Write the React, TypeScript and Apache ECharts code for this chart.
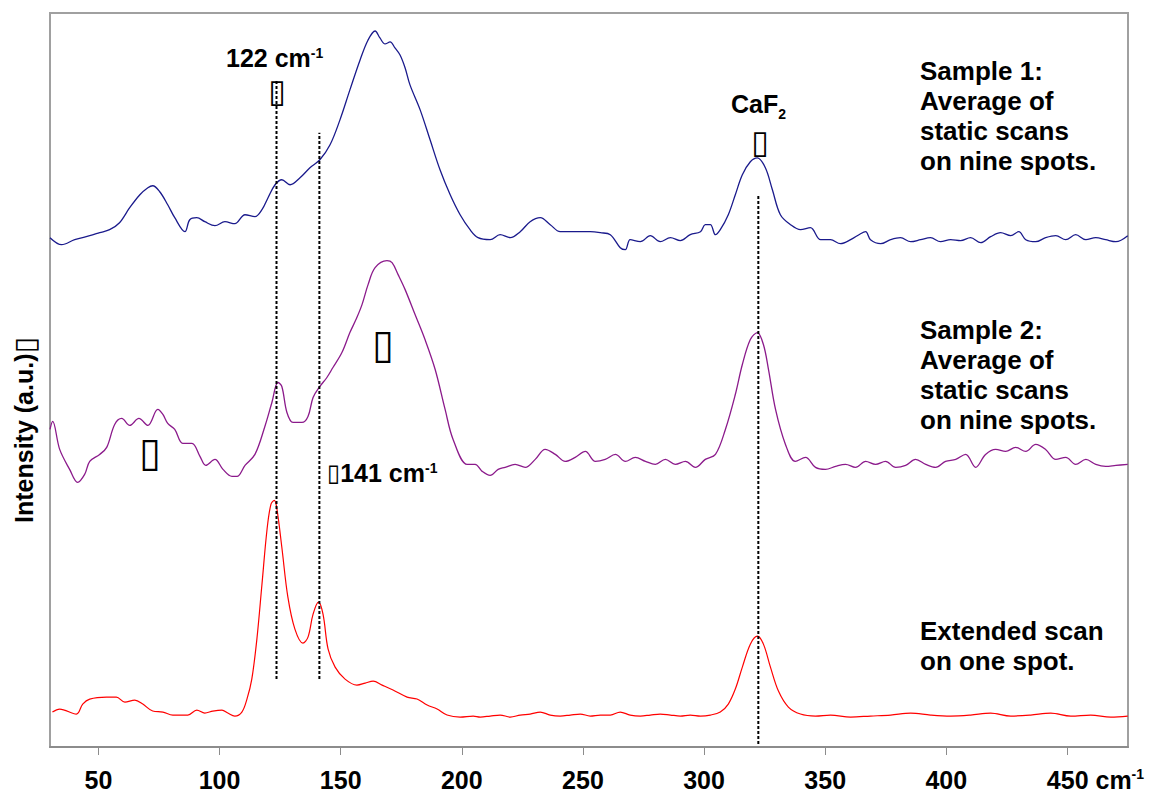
import React, { useEffect, useRef } from 'react';
import * as echarts from 'echarts';

// Wavenumber (cm-1) and intensity (a.u., arbitrary stacked offsets)
const sample1X = [30, 34.8, 40.2, 46.4, 50.5, 54.6, 58.7, 62.9, 67.1, 70.4,
  72.4, 75.3, 78.6, 81.5, 85.7, 87.7, 90.6, 93.9, 98.1, 102.2,
  106.3, 110.5, 114.6, 117.5, 120.0, 122.9, 125.7, 129.1, 133.2, 137.3,
  141.4, 145.6, 149.7, 153.8, 158.0, 161.3, 164.2, 166.2, 168.3, 170.4,
  172.4, 174.5, 176.6, 178.6, 182.8, 186.9, 191.0, 195.2, 199.3, 203.4,
  206.7, 211.7, 215.8, 220.0, 224.1, 228.2, 232.4, 236.5, 240.6, 244.8,
  248.9, 253.0, 257.2, 261.3, 265.4, 267.5, 269.5, 273.7, 277.8, 281.9,
  286.1, 290.2, 294.3, 298.5, 300.5, 302.6, 304.7, 306.7, 310.0, 312.9,
  315.8, 319.1, 322.0, 325.3, 328.2, 331.5, 335.7, 339.8, 343.9, 348.1,
  352.2, 356.3, 360.5, 364.6, 366.7, 368.7, 372.9, 377.0, 381.1, 385.3,
  389.4, 393.5, 397.6, 401.8, 405.9, 410.0, 414.2, 418.3, 422.4, 426.6,
  429.9, 432.8, 436.9, 441.0, 445.2, 449.3, 453.4, 457.6, 461.7, 465.8,
  470.0, 474.9];
const sample1Y = [510, 503, 508, 512, 515, 518, 525, 540, 553, 560,
  562, 556, 543, 530, 516, 528, 530, 526, 522, 526,
  524, 533, 531, 538, 550, 563, 568, 563, 570, 580,
  588, 603, 628, 658, 688, 708, 717, 710, 704, 706,
  700, 693, 680, 663, 638, 608, 578, 553, 533, 518,
  510, 508, 513, 510, 516, 526, 530, 523, 516, 516,
  516, 516, 515, 513, 500, 498, 508, 506, 512, 506,
  510, 507, 513, 516, 523, 523, 513, 518, 533, 553,
  573, 586, 590, 580, 558, 533, 523, 518, 520, 508,
  508, 504, 508, 514, 516, 508, 504, 508, 510, 506,
  508, 510, 506, 508, 507, 510, 505, 511, 515, 512,
  516, 508, 506, 510, 512, 508, 513, 508, 510, 508,
  506, 512];

const sample2X = [30.0, 31.1, 34.0, 38.1, 41.4, 44.3, 46.4, 50.5, 53.4, 56.7,
  59.6, 62.9, 66.7, 70.4, 74.5, 76.6, 78.6, 81.5, 84.8, 88.6,
  91.9, 94.3, 98.1, 101.4, 105.1, 107.2, 110.5, 114.6, 118.7, 121.6,
  124.1, 125.7, 127.8, 130.3, 134.0, 136.5, 138.6, 141.4, 144.3, 146.8,
  150.5, 153.8, 156.3, 158.8, 161.3, 164.2, 169.1, 171.2, 173.7, 176.6,
  180.7, 184.8, 189.0, 193.1, 196.4, 202.2, 205.5, 208.4, 211.7, 215.0,
  217.9, 222.0, 226.2, 230.3, 234.4, 238.6, 242.7, 246.8, 251.0, 255.1,
  259.2, 263.4, 267.5, 271.6, 275.8, 279.9, 284.0, 288.1, 292.3, 296.4,
  300.5, 304.7, 308.8, 312.9, 315.8, 319.1, 322.0, 324.5, 326.6, 329.5,
  333.6, 337.7, 341.9, 346.0, 350.1, 354.3, 358.4, 362.5, 366.7, 370.8,
  374.9, 379.1, 383.2, 387.3, 391.5, 395.6, 399.7, 403.9, 408.0, 412.1,
  416.2, 420.4, 424.5, 428.6, 432.8, 436.9, 441.0, 445.2, 449.3, 453.4,
  457.6, 461.7, 465.8, 470.0, 474.9];
const sample2Y = [318, 326, 298, 278, 265, 273, 286, 293, 300, 323,
  329, 322, 329, 322, 338, 333, 324, 318, 304, 304,
  291, 282, 288, 278, 271, 271, 282, 293, 321, 345,
  365, 361, 335, 325, 325, 331, 350, 361, 370, 380,
  395, 415, 428, 443, 463, 480, 487, 485, 473, 458,
  433, 408, 378, 338, 308, 283, 283, 276, 272, 278,
  280, 283, 280, 288, 298, 293, 286, 290, 296, 286,
  288, 293, 286, 290, 286, 283, 288, 283, 286, 280,
  288, 293, 318, 353, 383, 408, 415, 403, 378, 338,
  303, 286, 290, 280, 278, 281, 283, 280, 286, 283,
  286, 280, 282, 288, 283, 280, 286, 288, 293, 280,
  293, 298, 296, 300, 296, 303, 298, 288, 290, 283,
  288, 283, 281, 282, 283];

const extendedX = [31.0, 34.0, 40.9, 43.5, 46.4, 53.3, 57.4, 60.9, 65.0, 68.3,
  72.4, 76.6, 80.7, 86.9, 90.6, 93.9, 97.2, 101.0, 103.4, 106.3,
  109.2, 111.3, 113.3, 115.4, 117.5, 119.6, 121.2, 122.6, 123.7, 125.7,
  128.2, 131.1, 134.4, 136.5, 138.6, 140.8, 142.7, 144.8, 147.7, 151.8,
  156.7, 160.1, 163.4, 167.1, 171.6, 177.4, 181.5, 185.7, 189.8, 193.9,
  199.3, 204.7, 207.6, 211.7, 215.8, 220.0, 224.1, 228.2, 232.4, 236.5,
  240.6, 244.8, 248.9, 253.0, 257.2, 261.3, 265.4, 269.5, 273.7, 277.8,
  281.9, 286.1, 290.2, 294.3, 298.5, 302.6, 306.7, 310.0, 312.9, 315.8,
  319.1, 322.0, 324.5, 327.4, 330.7, 334.8, 339.8, 346.0, 352.2, 360.5,
  368.7, 377.0, 385.3, 393.5, 401.8, 410.0, 418.3, 426.6, 434.8, 443.1,
  451.4, 459.6, 467.9, 474.9];
const extendedY = [35, 38, 33, 43, 48, 50, 50, 45, 47, 43,
  36, 35, 32, 32, 37, 34, 36, 37, 34, 31,
  35, 48, 68, 108, 163, 218, 243, 247, 238, 200,
  150, 118, 104, 110, 133, 145, 133, 98, 80, 68,
  62, 64, 66, 62, 57, 50, 48, 42, 38, 32,
  30, 31, 30, 31, 32, 30, 32, 33, 35, 32,
  31, 32, 33, 31, 32, 32, 35, 32, 31, 32,
  33, 32, 31, 32, 31, 32, 35, 43, 58, 80,
  103, 111, 103, 80, 56, 40, 33, 31, 32, 30,
  31, 32, 34, 32, 31, 32, 34, 31, 32, 34,
  31, 32, 30, 31];

// Reference (dotted) lines: position in cm-1 and vertical extent in a.u.
const markerNames = ['122 cm-1', '141 cm-1', 'CaF2'];
const markerX = [123.5, 141.2, 322.4];
const markerYFrom = [68, 68, 3];
const markerYTo = [668, 615, 552];

const xTicks = [50, 100, 150, 200, 250, 300, 350, 400, 450];

const FONT = '"Liberation Sans", Arial, Helvetica, "DejaVu Sans", sans-serif';

export default function App() {
  const ref = useRef<HTMLDivElement>(null);
  useEffect(() => {
    document.body.style.margin = '0';
    const chart = echarts.init(ref.current as HTMLDivElement, null, { renderer: 'svg' });
    const pairs = (xs: number[], ys: number[]) => {
      const n = Math.min(xs.length, ys.length);
      const out: number[][] = [];
      for (let i = 0; i < n; i++) out.push([xs[i], ys[i]]);
      return out;
    };
    const spectrum = (name: string, xs: number[], ys: number[], color: string, width: number) => ({
      type: 'line', name, data: pairs(xs, ys), symbol: 'none', smooth: 0.35,
      lineStyle: { color, width }, silent: true, z: 2,
    });
    const dotted = markerNames.map((name, i) => ({
      type: 'line', name, data: [[markerX[i], markerYFrom[i]], [markerX[i], markerYTo[i]]],
      symbol: 'none', lineStyle: { color: '#000', width: 2, type: [3, 2] }, silent: true, z: 3,
    }));
    const bold = { fontFamily: FONT, fontWeight: 'bold', fontSize: 25, fill: '#000' };
    const big = { fontFamily: FONT, fontWeight: 'bold', fontSize: 26, fill: '#000' };
    const sup = { fontFamily: FONT, fontWeight: 'bold', fontSize: 14, fill: '#000', verticalAlign: 'top' };
    const box = { fontFamily: '"DejaVu Sans", sans-serif', fontSize: 24, fill: '#000' };
    const option: any = {
      animation: false,
      backgroundColor: '#fff',
      grid: { left: 50, right: 26, top: 13, bottom: 44, show: true, borderColor: '#a0a0a0', borderWidth: 2, backgroundColor: 'transparent' },
      xAxis: {
        type: 'value', min: 30, max: 475,
        axisLine: { show: true, lineStyle: { color: '#8c8c8c', width: 2 } },
        axisTick: { show: true, length: 8, lineStyle: { color: '#8c8c8c', width: 1 }, customValues: xTicks },
        axisLabel: {
          customValues: xTicks, margin: 20, color: '#000', fontFamily: FONT, fontWeight: 'bold', fontSize: 25,
          formatter: (v: number) => v === 450 ? '{p|}{n|450 cm}{s|-1}' : String(v),
          rich: {
            p: { width: 56 },
            n: { fontFamily: FONT, fontWeight: 'bold', fontSize: 25, color: '#000' },
            s: { fontFamily: FONT, fontWeight: 'bold', fontSize: 14, color: '#000', verticalAlign: 'top' },
          },
        },
        splitLine: { show: false },
      },
      yAxis: { type: 'value', min: 0, max: 735, show: false },
      series: [
        spectrum('Sample 1', sample1X, sample1Y, '#1a1a8c', 1.3),
        spectrum('Sample 2', sample2X, sample2Y, '#8b1a8b', 1.3),
        spectrum('Extended scan', extendedX, extendedY, '#ff0000', 1.2),
        ...dotted,
      ],
      graphic: [
        { type: 'text', x: 226, y: 58, z: 10, style: { text: '{a|122 cm}{s|-1}', rich: { a: bold, s: sup }, verticalAlign: 'middle' } },
        { type: 'text', x: 277, y: 91, z: 10, style: { ...box, fontSize: 32, text: '▯', align: 'center', verticalAlign: 'middle' } },
        { type: 'text', x: 731, y: 104, z: 10, style: { text: '{a|CaF}{b|2}', rich: { a: bold, b: { ...bold, fontSize: 14, verticalAlign: 'bottom', padding: [0, 0, -4, 0] } }, verticalAlign: 'middle' } },
        { type: 'text', x: 760, y: 142, z: 10, style: { ...box, fontSize: 32, text: '▯', align: 'center', verticalAlign: 'middle' } },
        { type: 'text', x: 327, y: 473, z: 10, style: { text: '{c|▯}{a|141 cm}{s|-1}', rich: { a: bold, s: sup, c: box }, verticalAlign: 'middle' } },
        { type: 'text', x: 383, y: 344, z: 10, style: { ...box, fontSize: 40, text: '▯', align: 'center', verticalAlign: 'middle' } },
        { type: 'text', x: 150, y: 452, z: 10, style: { ...box, fontSize: 40, text: '▯', align: 'center', verticalAlign: 'middle' } },
        { type: 'text', x: 24, y: 430, rotation: Math.PI / 2, z: 10, style: { text: '{a|Intensity (a.u.)}{c|▯}', rich: { a: bold, c: { ...box, fontSize: 30 } }, align: 'center', verticalAlign: 'middle' } },
        { type: 'text', x: 920, y: 56, z: 10, style: { ...big, lineHeight: 30, text: 'Sample 1:\nAverage of\nstatic scans\non nine spots.', verticalAlign: 'top' } },
        { type: 'text', x: 920, y: 315, z: 10, style: { ...big, lineHeight: 30, text: 'Sample 2:\nAverage of\nstatic scans\non nine spots.', verticalAlign: 'top' } },
        { type: 'text', x: 920, y: 616, z: 10, style: { ...big, lineHeight: 30, text: 'Extended scan\non one spot.', verticalAlign: 'top' } },
      ],
    };
    chart.setOption(option);
    return () => chart.dispose();
  }, []);
  return <div ref={ref} style={{ position: 'fixed', left: 0, top: 0, width: 1154, height: 792 }} />;
}
